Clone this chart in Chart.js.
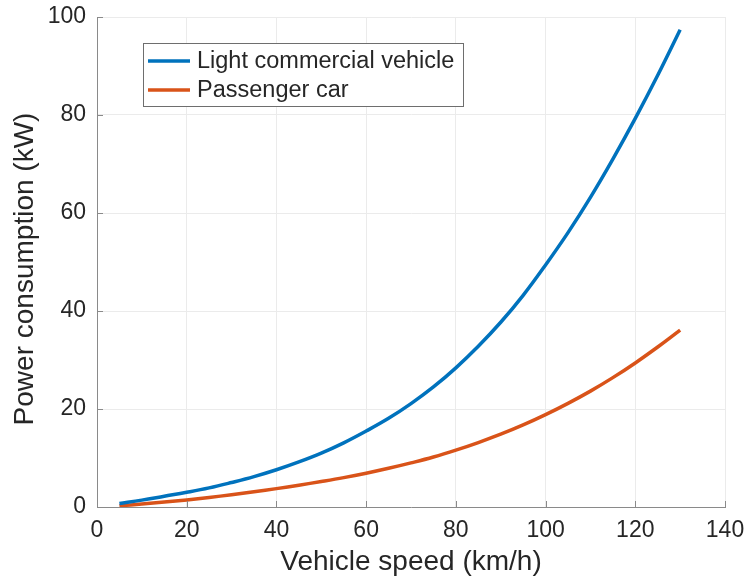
<!DOCTYPE html>
<html>
<head>
<meta charset="utf-8">
<script src="https://cdn.jsdelivr.net/npm/chart.js@4/dist/chart.umd.min.js"></script>
<style>
  html, body { margin: 0; padding: 0; background: #fff; }
  #wrap { width: 750px; height: 585px; position: relative; }
</style>
</head>
<body>
<div id="wrap"><canvas id="chart"></canvas></div>
<script>
// speeds in km/h
var speeds = [5, 10, 15, 20, 25, 30, 35, 40, 45, 50, 55, 60, 65,
              70, 75, 80, 85, 90, 95, 100, 105, 110, 115, 120, 125, 130];
// power in kW
var lcvPower = [0.7, 1.4, 2.2, 3.0, 3.9, 5.0, 6.2, 7.6, 9.2, 11.0, 13.1, 15.5, 18.1,
                21.1, 24.5, 28.4, 32.8, 37.7, 43.2, 49.4, 56.0, 63.2, 71.0, 79.3, 88.1, 97.4];
var carPower = [0.25, 0.6, 1.0, 1.45, 1.95, 2.5, 3.1, 3.75, 4.45, 5.2, 6.0, 6.9, 7.9,
                9.0, 10.2, 11.6, 13.15, 14.85, 16.75, 18.85, 21.15, 23.65, 26.4, 29.4, 32.65, 36.1];
var seriesNames = ['Light commercial vehicle', 'Passenger car'];
var seriesColors = ['#0072BD', '#D95319'];
var xTitle = 'Vehicle speed (km/h)';
var yTitle = 'Power consumption (kW)';

var FONT = 'Liberation Sans, Arial, Helvetica, sans-serif';
var TEXT = '#262626';
var AXIS = '#8a8a8a';

function toPoints(xs, ys) {
    return xs.map(function (x, i) { return {x: x, y: ys[i]}; });
}

// MATLAB style inward ticks
var innerTicks = {
    id: 'innerTicks',
    afterDatasetsDraw: function (chart) {
        var ctx = chart.ctx, a = chart.chartArea;
        var xs = chart.scales.x, ys = chart.scales.y;
        ctx.save();
        ctx.strokeStyle = AXIS;
        ctx.lineWidth = 1;
        ctx.beginPath();
        xs.ticks.forEach(function (t) {
            var px = Math.round(xs.getPixelForValue(t.value)) + 0.5;
            ctx.moveTo(px, a.bottom);
            ctx.lineTo(px, a.bottom - 6);
        });
        ys.ticks.forEach(function (t) {
            var py = Math.round(ys.getPixelForValue(t.value)) + 0.5;
            ctx.moveTo(a.left, py);
            ctx.lineTo(a.left + 6, py);
        });
        ctx.stroke();
        ctx.restore();
    }
};

// y title sits a bit below the middle of the plot in the original
var yTitlePlugin = {
    id: 'yTitlePlugin',
    afterDraw: function (chart) {
        var ctx = chart.ctx;
        ctx.save();
        ctx.translate(25, 269);
        ctx.rotate(-Math.PI / 2);
        ctx.font = '28px ' + FONT;
        ctx.fillStyle = TEXT;
        ctx.textAlign = 'center';
        ctx.textBaseline = 'middle';
        ctx.fillText(yTitle, 0, 0);
        ctx.restore();
    }
};

// legend box inside the plot, upper left
var boxLegend = {
    id: 'boxLegend',
    afterDraw: function (chart) {
        var ctx = chart.ctx, a = chart.chartArea;
        var x = a.left + 46, y = a.top + 26, w = 320, h = 63;
        ctx.save();
        ctx.fillStyle = '#fff';
        ctx.fillRect(x, y, w, h);
        ctx.strokeStyle = '#6e6e6e';
        ctx.lineWidth = 1;
        ctx.strokeRect(x + 0.5, y + 0.5, w, h);
        ctx.font = '23.5px ' + FONT;
        ctx.textBaseline = 'middle';
        chart.data.datasets.forEach(function (ds, i) {
            var cy = y + 18 + i * 29;
            ctx.strokeStyle = ds.borderColor;
            ctx.lineWidth = 3.5;
            ctx.beginPath();
            ctx.moveTo(x + 5, cy);
            ctx.lineTo(x + 47, cy);
            ctx.stroke();
            ctx.fillStyle = TEXT;
            ctx.fillText(ds.label, x + 54, cy + 1);
        });
        ctx.restore();
    }
};

var chart = new Chart(document.getElementById('chart'), {
    type: 'line',
    data: {
        datasets: [
            {label: seriesNames[0], data: toPoints(speeds, lcvPower), borderColor: seriesColors[0]},
            {label: seriesNames[1], data: toPoints(speeds, carPower), borderColor: seriesColors[1]}
        ]
    },
    options: {
        responsive: true,
        maintainAspectRatio: false,
        animation: false,
        layout: {padding: {left: 0, right: 25, top: 17, bottom: 0}},
        elements: {
            point: {radius: 0},
            line: {borderWidth: 3.5, tension: 0.4, fill: false}
        },
        plugins: {legend: {display: false}, tooltip: {enabled: false}},
        scales: {
            x: {
                type: 'linear',
                min: 0, max: 140,
                afterFit: function (s) {
                    s.height = 78;
                    s.paddingLeft = 0;
                    s.paddingRight = 0;
                },
                ticks: {stepSize: 20, padding: 10, color: TEXT, font: {family: FONT, size: 23}, maxRotation: 0},
                grid: {color: '#ebebeb', drawTicks: false},
                border: {color: AXIS},
                title: {display: true, text: xTitle, color: TEXT,
                        font: {family: FONT, size: 28}, padding: {top: 0, bottom: 6}}
            },
            y: {
                min: 0, max: 100,
                afterFit: function (s) {
                    s.width = 97;
                    s.paddingTop = 0;
                    s.paddingBottom = 0;
                },
                ticks: {stepSize: 20, padding: 11, color: TEXT, font: {family: FONT, size: 23}},
                grid: {color: '#ebebeb', drawTicks: false},
                border: {color: AXIS}
            }
        }
    },
    plugins: [innerTicks, yTitlePlugin, boxLegend]
});
</script>
</body>
</html>
